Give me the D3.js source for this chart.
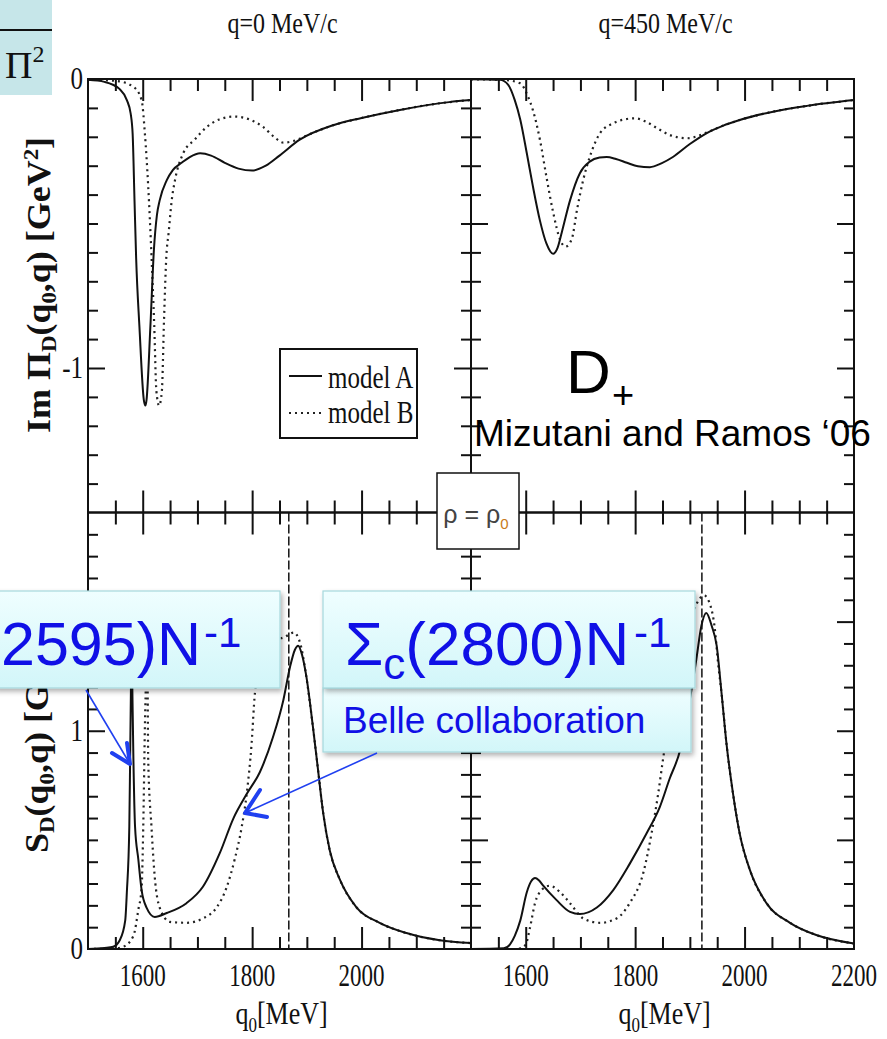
<!DOCTYPE html>
<html><head><meta charset="utf-8">
<script src="https://cdn.jsdelivr.net/npm/d3@7"></script>
<style>body{margin:0;background:#fff} svg{display:block}</style>
</head><body><svg id="c" width="887" height="1039"></svg>
<script>
// ---------------- DATA ----------------
// Im Pi_D(q0,q) [GeV^2], q = 0 MeV/c
const imPi_q0_modelA = [[1500,-0.003],[1530,-0.01],[1558,-0.035],[1571,-0.073],[1578,-0.12],[1581.6,-0.19],[1585,-0.42],[1588,-0.62],[1594,-0.857],[1602,-1.11],[1605,-1.13],[1607,-1.11],[1614,-0.857],[1620.5,-0.59],[1626,-0.47],[1631,-0.42],[1644,-0.35],[1655,-0.315],[1671,-0.29],[1686,-0.27],[1705,-0.257],[1725,-0.265],[1750,-0.29],[1775,-0.31],[1800,-0.317],[1825,-0.30],[1850,-0.265],[1887,-0.21],[1948,-0.16],[2000,-0.135],[2070,-0.107],[2160,-0.08],[2200,-0.073]];
const imPi_q0_modelB = [[1500,-0.002],[1553,-0.007],[1583,-0.027],[1598,-0.073],[1604,-0.19],[1610,-0.37],[1616,-0.61],[1621,-0.85],[1625,-1.08],[1630,-1.13],[1635,-1.08],[1639,-0.83],[1643,-0.62],[1647.5,-0.53],[1653,-0.42],[1659,-0.35],[1674,-0.257],[1695,-0.21],[1717,-0.166],[1740,-0.14],[1768,-0.13],[1795,-0.14],[1820,-0.166],[1840,-0.20],[1857,-0.22],[1875,-0.215],[1900,-0.195],[1948,-0.16],[2000,-0.135],[2070,-0.107],[2160,-0.08],[2200,-0.073]];
// Im Pi_D(q0,q), q = 450 MeV/c
const imPi_q450_modelA = [[1500,-0.001],[1553,-0.003],[1568,-0.02],[1580,-0.073],[1590,-0.14],[1602,-0.257],[1613,-0.37],[1626,-0.49],[1638,-0.57],[1650,-0.605],[1658,-0.585],[1666,-0.53],[1681,-0.42],[1699,-0.326],[1717,-0.286],[1735,-0.272],[1748,-0.27],[1765,-0.277],[1785,-0.29],[1805,-0.302],[1827,-0.305],[1848,-0.292],[1869,-0.27],[1900,-0.225],[1931,-0.187],[1960,-0.162],[1991,-0.142],[2052,-0.113],[2114,-0.093],[2200,-0.073]];
const imPi_q450_modelB = [[1500,-0.001],[1560,-0.003],[1590,-0.015],[1604,-0.06],[1613,-0.107],[1626,-0.21],[1638,-0.34],[1650,-0.46],[1663,-0.557],[1673,-0.58],[1684,-0.555],[1694,-0.45],[1705,-0.35],[1717,-0.27],[1736,-0.187],[1760,-0.153],[1780,-0.14],[1800,-0.136],[1820,-0.148],[1840,-0.17],[1865,-0.195],[1895,-0.205],[1931,-0.185],[1960,-0.162],[1991,-0.142],[2052,-0.113],[2114,-0.093],[2200,-0.073]];
// S_D(q0,q) [GeV^-2], q = 0 MeV/c
const sD_q0_modelA = [[1500,0],[1530,0.005],[1546,0.01],[1558,0.04],[1568,0.13],[1571,0.26],[1575.5,0.56],[1577,0.87],[1578.5,1.2],[1579.5,1.45],[1581,1.2],[1583,0.87],[1586,0.56],[1592,0.41],[1598,0.27],[1607,0.19],[1622,0.147],[1644,0.165],[1680,0.21],[1710,0.285],[1741,0.44],[1766,0.6],[1790,0.71],[1814,0.81],[1838,0.97],[1857,1.14],[1869,1.29],[1878,1.37],[1884,1.39],[1891,1.35],[1899,1.25],[1911,1.02],[1920,0.83],[1930,0.62],[1942,0.45],[1960,0.32],[1991,0.19],[2033,0.12],[2082,0.073],[2143,0.04],[2200,0.027]];
const sD_q0_modelB = [[1500,0],[1550,0.003],[1564,0.01],[1583,0.06],[1592,0.18],[1598,0.28],[1601,0.56],[1604,1.02],[1606,1.25],[1607.5,1.45],[1609,1.2],[1610,0.87],[1616,0.56],[1622,0.33],[1631,0.19],[1650,0.124],[1680,0.12],[1710,0.14],[1735,0.19],[1753,0.28],[1768,0.41],[1781,0.56],[1790,0.71],[1799,0.94],[1805,1.17],[1820,1.35],[1840,1.41],[1860,1.43],[1876,1.45],[1888,1.4],[1897,1.28],[1911,1.02],[1920,0.83],[1930,0.62],[1942,0.45],[1960,0.32],[1991,0.19],[2033,0.12],[2082,0.073],[2143,0.04],[2200,0.027]];
// S_D(q0,q), q = 450 MeV/c
const sD_q450_modelA = [[1500,0],[1560,0.003],[1571,0.02],[1580,0.06],[1590,0.13],[1602,0.26],[1610,0.31],[1617,0.325],[1624,0.315],[1632,0.29],[1656,0.225],[1681,0.17],[1699,0.16],[1730,0.19],[1760,0.27],[1790,0.39],[1821,0.53],[1845,0.65],[1863,0.78],[1882,0.91],[1897,1.1],[1912,1.33],[1921,1.48],[1930,1.54],[1940,1.48],[1949,1.39],[1958,1.17],[1967,0.94],[1979,0.71],[1991,0.53],[2010,0.36],[2040,0.21],[2083,0.12],[2131,0.064],[2200,0.025]];
const sD_q450_modelB = [[1500,0],[1580,0],[1590,0.003],[1600,0.02],[1608,0.1],[1617,0.21],[1629,0.27],[1644,0.29],[1663,0.26],[1681,0.21],[1705,0.14],[1736,0.12],[1766,0.14],[1790,0.21],[1815,0.35],[1830,0.53],[1842,0.71],[1851,0.87],[1870,1.17],[1890,1.42],[1910,1.57],[1926,1.62],[1938,1.57],[1945,1.48],[1952,1.3],[1958,1.17],[1967,0.94],[1979,0.71],[1991,0.53],[2010,0.36],[2040,0.21],[2083,0.12],[2131,0.064],[2200,0.025]];
// vertical dashed reference lines (q0 in MeV) for q=0 and q=450
const thresholdQ0 = [1867, 1922];
// tick labels
const xMajorTicks = [1600, 1800, 2000];
const xTickLabelsLeft = ['1600','1800','2000'];
const xTickLabelsRight = ['1600','1800','2000','2200'];
const yTickLabelsTop = [['0',0],['-1',-1]];
const yTickLabelsBottom = [['0',0],['1',1]];
const panelTitles = ['q=0 MeV/c','q=450 MeV/c'];
const legendLabels = ['model A','model B'];

// ---------------- DRAW ----------------
const svg = d3.select('#c');
svg.append('rect').attr('width',887).attr('height',1039).attr('fill','#fff');
const SERIF = "'Liberation Serif','Times New Roman',serif";
const SANS = "'Liberation Sans',Arial,sans-serif";
const defs = svg.append('defs');

const XL=[88,471], XR=[471,854], YT=[79,512.5], YB=[512.5,949];
const panels = [
  {xr:XL, yr:YT, dom:[-1.5,0], A:imPi_q0_modelA,   B:imPi_q0_modelB,   yMaj:[-1],          yMin:d3.range(1,15).map(v=>-v/10)},
  {xr:XR, yr:YT, dom:[-1.5,0], A:imPi_q450_modelA, B:imPi_q450_modelB, yMaj:[-0.5,-1],     yMin:d3.range(1,15).map(v=>-v/10)},
  {xr:XL, yr:YB, dom:[0,2],    A:sD_q0_modelA,     B:sD_q0_modelB,     yMaj:[1],           yMin:d3.range(1,20).map(v=>v/10), th:thresholdQ0[0]},
  {xr:XR, yr:YB, dom:[0,2],    A:sD_q450_modelA,   B:sD_q450_modelB,   yMaj:[0.5,1,1.5],   yMin:d3.range(1,20).map(v=>v/10), th:thresholdQ0[1]},
];
panels.forEach((p,i)=>{
  p.x = d3.scaleLinear().domain([1500,2200]).range(p.xr);
  p.y = d3.scaleLinear().domain(p.dom).range([p.yr[1],p.yr[0]]);
  defs.append('clipPath').attr('id','clip'+i).append('rect')
    .attr('x',p.xr[0]).attr('y',p.yr[0]).attr('width',p.xr[1]-p.xr[0]).attr('height',p.yr[1]-p.yr[0]);
});

function styleAxis(g){
  g.select('.domain').remove();
  g.selectAll('.tick line').attr('stroke','#111').attr('stroke-width',2);
}
const xMinorTicks = d3.range(1550,2200,50).filter(v=>!xMajorTicks.includes(v));

panels.forEach((p,i)=>{
  const g = svg.append('g');
  const cg = g.append('g').attr('clip-path',`url(#clip${i})`);
  if (p.th) {
    cg.append('line').attr('x1',p.x(p.th)).attr('x2',p.x(p.th)).attr('y1',p.yr[0]).attr('y2',p.yr[1])
      .attr('stroke','#111').attr('stroke-width',1.5).attr('stroke-dasharray','9,3');
  }
  const line = d3.line().x(d=>p.x(d[0])).y(d=>p.y(d[1])).curve(d3.curveMonotoneX);
  cg.append('path').attr('d',line(p.B)).attr('fill','none').attr('stroke','#222').attr('stroke-width',2.2).attr('stroke-dasharray','2,4');
  cg.append('path').attr('d',line(p.A)).attr('fill','none').attr('stroke','#111').attr('stroke-width',2);
  // axes
  [[xMinorTicks,12],[xMajorTicks,22]].forEach(([vals,len])=>{
    g.append('g').attr('transform',`translate(0,${p.yr[1]})`).call(d3.axisBottom(p.x).tickValues(vals).tickSize(-len).tickFormat('')).call(styleAxis);
    g.append('g').attr('transform',`translate(0,${p.yr[0]})`).call(d3.axisTop(p.x).tickValues(vals).tickSize(-len).tickFormat('')).call(styleAxis);
  });
  const yMinor = p.yMin.map(v=>Math.round(v*10)/10).filter(v=>!p.yMaj.includes(v));
  [[yMinor,10],[p.yMaj,17]].forEach(([vals,len])=>{
    g.append('g').attr('transform',`translate(${p.xr[0]},0)`).call(d3.axisLeft(p.y).tickValues(vals).tickSize(-len).tickFormat('')).call(styleAxis);
    g.append('g').attr('transform',`translate(${p.xr[1]},0)`).call(d3.axisRight(p.y).tickValues(vals).tickSize(-len).tickFormat('')).call(styleAxis);
  });
  g.append('rect').attr('x',p.xr[0]).attr('y',p.yr[0]).attr('width',p.xr[1]-p.xr[0]).attr('height',p.yr[1]-p.yr[0])
    .attr('fill','none').attr('stroke','#111').attr('stroke-width',2);
});

function sText(x,y,str,o={}){
  const t = svg.append('text')
    .attr('transform',`translate(${x},${y})${o.rot?` rotate(${o.rot})`:''} scale(${o.sx||1},${o.sy||1})`)
    .attr('font-family',o.ff||SERIF).attr('font-size',o.fs||24).attr('fill',o.fill||'#111')
    .attr('text-anchor',o.anchor||'middle');
  if (o.bold) t.attr('font-weight','bold');
  if (typeof str === 'string') t.text(str);
  else str.forEach(s=>{ const ts=t.append('tspan').text(s.t); if(s.dy) ts.attr('dy',s.dy); if(s.fs) ts.attr('font-size',s.fs); if(s.fill) ts.attr('fill',s.fill); });
  return t;
}

// tick labels
const pTL=panels[0], pBL=panels[2], pBR=panels[3];
yTickLabelsTop.forEach(([s,v])=>sText(83, pTL.y(v)+10, s, {anchor:'end', fs:25, sy:1.3}));
yTickLabelsBottom.forEach(([s,v])=>sText(83, pBL.y(v)+10, s, {anchor:'end', fs:25, sy:1.3}));
xTickLabelsLeft.forEach(s=>sText(pBL.x(+s), 986, s, {fs:23, sy:1.4}));
xTickLabelsRight.forEach(s=>sText(pBR.x(+s), 986, s, {fs:23, sy:1.4}));
// axis titles
[pBL,pBR].forEach(p=>sText((p.xr[0]+p.xr[1])/2+2, 1024, [{t:'q'},{t:'0',dy:6,fs:17},{t:'[MeV]',dy:-6}], {fs:26, sy:1.25}));
panelTitles.forEach((s,i)=>sText((panels[i].xr[0]+panels[i].xr[1])/2+3, 33, s, {fs:24, sy:1.2}));
sText(50, 433, [{t:'Im Π'},{t:'D',dy:6,fs:21},{t:'(q',dy:-6},{t:'0',dy:6,fs:21},{t:',q) [GeV',dy:-6},{t:'2',dy:-12,fs:21},{t:']',dy:12}], {rot:-90, anchor:'start', fs:33, bold:true, sx:1.09});
sText(48, 853, [{t:'S'},{t:'D',dy:6,fs:21},{t:'(q',dy:-6},{t:'0',dy:6,fs:21},{t:',q) [GeV',dy:-6},{t:'-2',dy:-12,fs:21},{t:']',dy:12}], {rot:-90, anchor:'start', fs:33, bold:true, sx:1.09});

// legend
svg.append('rect').attr('x',280).attr('y',349).attr('width',137).attr('height',89).attr('fill','#fff').attr('stroke','#111').attr('stroke-width',2);
svg.append('line').attr('x1',289).attr('x2',322).attr('y1',376).attr('y2',376).attr('stroke','#111').attr('stroke-width',2);
svg.append('line').attr('x1',289).attr('x2',322).attr('y1',413).attr('y2',413).attr('stroke','#222').attr('stroke-width',2.2).attr('stroke-dasharray','2,4');
sText(328, 388, legendLabels[0], {anchor:'start', fs:25, sy:1.25});
sText(328, 423, legendLabels[1], {anchor:'start', fs:25, sy:1.25});

// rho box
svg.append('rect').attr('x',437).attr('y',473).attr('width',82).attr('height',76).attr('fill','#fff').attr('stroke','#111').attr('stroke-width',1.5);
sText(476, 523, [{t:'ρ = ρ'},{t:'0',dy:6,fs:15,fill:'#c87a20'}], {ff:SANS, fs:25, fill:'#444'});

// top-left formula fragment
svg.append('rect').attr('x',0).attr('y',0).attr('width',52).attr('height',95).attr('fill','#c6e6e9');
svg.append('line').attr('x1',0).attr('x2',52).attr('y1',30).attr('y2',30).attr('stroke','#111').attr('stroke-width',2);
sText(5, 78, [{t:'Π'},{t:'2',dy:-16,fs:24}], {anchor:'start', fs:38});

// D+ annotation
sText(566, 393, 'D', {anchor:'start', ff:SANS, fs:62, fill:'#000'});
sText(612, 408, '+', {anchor:'start', ff:SANS, fs:38, fill:'#000'});
sText(474, 446, 'Mizutani and Ramos ‘06', {anchor:'start', ff:SANS, fs:37, fill:'#000'});

// callouts
const grad = defs.append('linearGradient').attr('id','cg').attr('x1',0).attr('x2',0).attr('y1',0).attr('y2',1);
grad.append('stop').attr('offset','0%').attr('stop-color','#effeff');
grad.append('stop').attr('offset','100%').attr('stop-color','#d2f6f9');
const sh = defs.append('filter').attr('id','sh').attr('x','-10%').attr('y','-10%').attr('width','130%').attr('height','140%');
sh.append('feDropShadow').attr('dx',2).attr('dy',3).attr('stdDeviation',2.5).attr('flood-color','#000').attr('flood-opacity',0.3);
function box(x,y,w,h){ svg.append('rect').attr('x',x).attr('y',y).attr('width',w).attr('height',h).attr('fill','url(#cg)').attr('stroke','#a6d8dc').attr('stroke-width',1.2).attr('filter','url(#sh)'); }
box(-6,591,286,97);
box(323,688,368,64);
box(323,591,372,97);
const BLUE = '#1010e6';
sText(1, 665, '2595)N', {anchor:'start', ff:SANS, fs:61, fill:BLUE});
sText(204, 647, '-1', {anchor:'start', ff:SANS, fs:42, fill:BLUE});
sText(345, 665, [{t:'Σ'},{t:'c',dy:14,fs:44},{t:'(2800)N',dy:-14}], {anchor:'start', ff:SANS, fs:62, fill:BLUE});
sText(634, 647, '-1', {anchor:'start', ff:SANS, fs:42, fill:BLUE});
sText(343, 733, 'Belle collaboration', {anchor:'start', ff:SANS, fs:37, fill:BLUE});

// arrows
const ARW = '#2040f0';
function arrow(x1,y1,x2,y2,a1,a2){
  svg.append('line').attr('x1',x1).attr('y1',y1).attr('x2',x2).attr('y2',y2).attr('stroke',ARW).attr('stroke-width',1.6);
  svg.append('path').attr('d',`M${a1[0]},${a1[1]}L${x2},${y2}L${a2[0]},${a2[1]}`).attr('fill','none').attr('stroke',ARW).attr('stroke-width',4).attr('stroke-linecap','round').attr('stroke-linejoin','round');
}
arrow(86,690,130,764,[112,753],[127,743]);
arrow(377,753,245,813,[267,817],[260,790]);
</script></body></html>
